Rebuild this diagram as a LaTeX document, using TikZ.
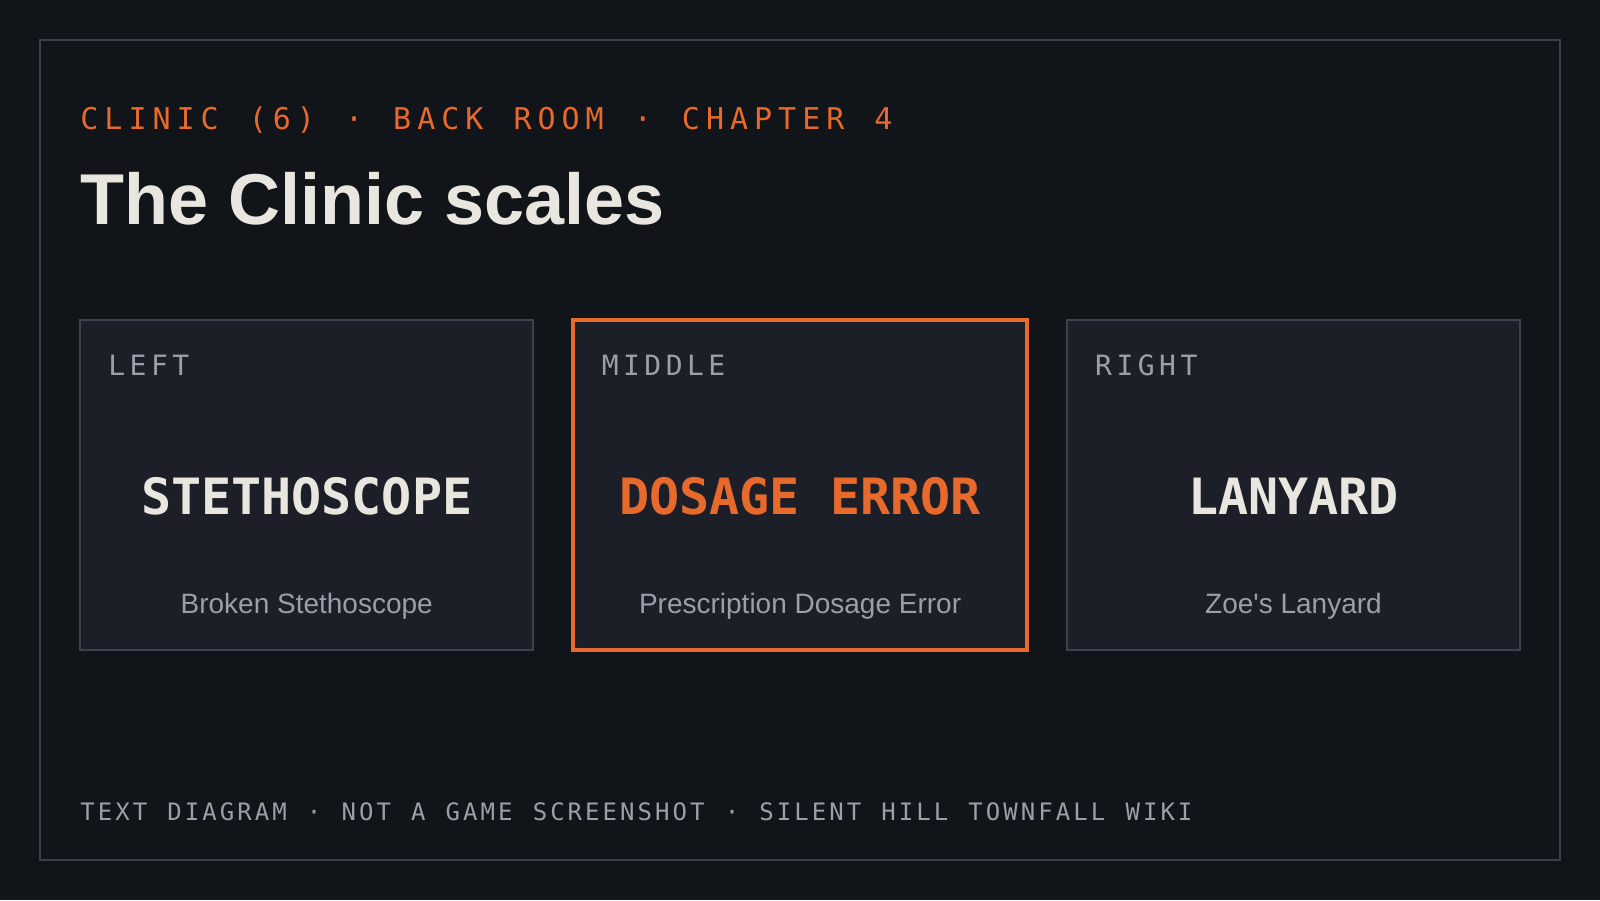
\documentclass[tikz,border=0pt]{standalone}
\usepackage{fontspec}
\setmainfont{Liberation Sans}
\newfontfamily\kickerfont[LetterSpace=20, WordSpace=1.25]{DejaVu Sans Mono}
\newfontfamily\sidefont[LetterSpace=16]{DejaVu Sans Mono}
\newfontfamily\footfont[LetterSpace=12.7, WordSpace=1.15]{DejaVu Sans Mono}
\newfontfamily\namefont{DejaVu Sans Mono}
\usetikzlibrary{positioning}

\definecolor{bgcol}{HTML}{111418}
\definecolor{framecol}{HTML}{3A3E4A}
\definecolor{cardfill}{HTML}{1C1F28}
\definecolor{cardline}{HTML}{3D4150}
\definecolor{hot}{HTML}{E8692C}
\definecolor{ink}{HTML}{E8E6DF}
\definecolor{dim}{HTML}{9A9FAB}

\begin{document}
\begin{tikzpicture}
\tikzstyle{card}=[rectangle, minimum width = 226.7pt, minimum height = 165pt, inner sep = 0pt, outer sep = 0pt, fill = cardfill, draw = cardline, line width = 1pt, node distance = 20pt]
\tikzstyle{hotcard}=[card, draw = hot, line width = 2pt]
\tikzstyle{side}=[inner sep = 0pt, anchor = base west, text = dim, font = \sidefont\fontsize{14}{16}\selectfont]
\tikzstyle{item}=[inner sep = 0pt, anchor = base, text = ink, font = \namefont\bfseries\fontsize{25}{28}\selectfont]
\tikzstyle{note}=[inner sep = 0pt, anchor = base, text = dim, font = \fontsize{14}{16}\selectfont]
% page and frame
\fill[bgcol] (0pt,0pt) rectangle (800pt,450pt);
\draw[framecol, line width = 1pt] (20pt,20pt) rectangle (780pt,430pt);
% header
\node[inner sep = 0pt, anchor = base west, text = hot, font = \kickerfont\fontsize{15}{18}\selectfont] (kicker) at (40pt,385pt) {CLINIC (6) · BACK ROOM · CHAPTER 4};
\node[inner sep = 0pt, anchor = base west, text = ink, font = \bfseries\fontsize{36}{40}\selectfont] (title) at (40pt,337.5pt) {The Clinic scales};
% the three pans
\node[card] (left) at (153.35pt,207.5pt) {};
\node[hotcard] (middle) [right=of left] {};
\node[card] (right) [right=of middle] {};
\node[side] (leftside) at ([xshift=14pt, yshift=-28pt]left.north west) {LEFT};
\node[side] (middleside) at ([xshift=14pt, yshift=-28pt]middle.north west) {MIDDLE};
\node[side] (rightside) at ([xshift=14pt, yshift=-28pt]right.north west) {RIGHT};
\node[item] (leftitem) at ([yshift=-97.5pt]left.north) {STETHOSCOPE};
\node[item, text = hot] (middleitem) at ([yshift=-97.5pt]middle.north) {DOSAGE ERROR};
\node[item] (rightitem) at ([yshift=-97.5pt]right.north) {LANYARD};
\node[note] (leftnote) at ([yshift=-147pt]left.north) {Broken Stethoscope};
\node[note] (middlenote) at ([yshift=-147pt]middle.north) {Prescription Dosage Error};
\node[note] (rightnote) at ([yshift=-147pt]right.north) {Zoe\textquotesingle s Lanyard};
% footer
\node[inner sep = 0pt, anchor = base west, text = dim, font = \footfont\fontsize{12}{14}\selectfont] (footer) at (40pt,40pt) {TEXT DIAGRAM · NOT A GAME SCREENSHOT · SILENT HILL TOWNFALL WIKI};
\end{tikzpicture}
\end{document}
